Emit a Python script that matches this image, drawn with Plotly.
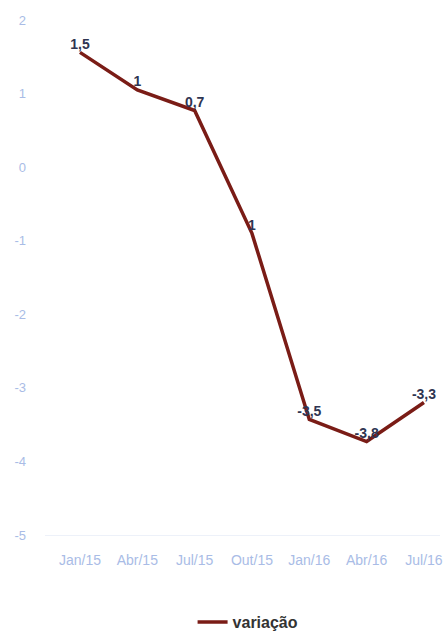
import plotly.graph_objects as go

categories = ["Jan/15", "Abr/15", "Jul/15", "Out/15", "Jan/16", "Abr/16", "Jul/16"]
values = [1.56, 1.05, 0.77, -0.9, -3.43, -3.73, -3.2]
labels = ["1,5", "1", "0,7", "1", "-3,5", "-3,8", "-3,3"]
y_ticks = [2, 1, 0, -1, -2, -3, -4, -5]
y_ticktext = ["2", "1", "0", "-1", "-2", "-3", "-4", "-5"]

fig = go.Figure()
fig.add_trace(go.Scatter(
    x=list(range(len(categories))), y=values, mode="lines+text",
    name="variação", text=labels, textposition="top center",
    textfont=dict(family="Liberation Sans, Arial", size=14, color="#2f3552", weight="bold"),
    line=dict(color="#7a1c16", width=3.5),
))

fig.update_layout(
    width=447, height=631,
    margin=dict(l=45, r=7, t=20, b=96, autoexpand=False),
    paper_bgcolor="white", plot_bgcolor="white",
    font=dict(family="Liberation Sans, Arial", size=13, color="#a9bce6"),
    xaxis=dict(
        tickmode="array", tickvals=list(range(len(categories))), ticktext=categories,
        range=[-0.61, 6.28], showgrid=False, zeroline=False,
        showline=True, linecolor="#edf1f9", linewidth=1,
        ticks="", tickfont=dict(family="Liberation Sans, Arial", size=14, color="#a9bce6"),
        ticklabelstandoff=12, automargin=False,
    ),
    yaxis=dict(
        range=[-5, 2], tickmode="array", tickvals=y_ticks, ticktext=y_ticktext,
        showgrid=False, zeroline=False, automargin=False,
        ticks="", tickfont=dict(family="Liberation Sans, Arial", size=13, color="#a9bce6"),
        ticklabelstandoff=18,
    ),
    showlegend=True,
    legend=dict(
        orientation="h", x=0.555, xanchor="center", xref="container",
        y=0.014, yanchor="middle", yref="container",
        font=dict(family="Liberation Sans, Arial", size=16, color="#333333", weight="bold"),
    ),
)

fig.write_html("out.html")
